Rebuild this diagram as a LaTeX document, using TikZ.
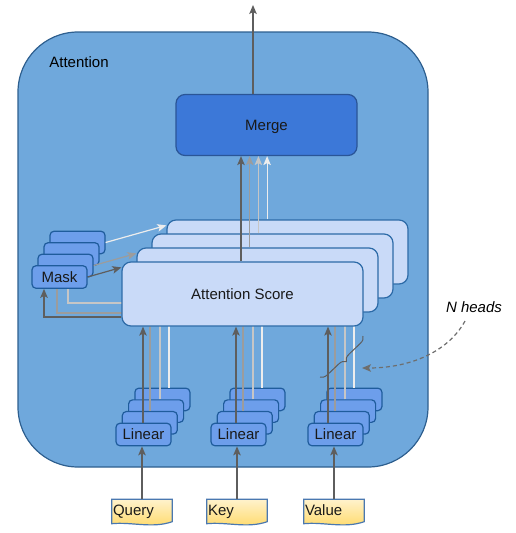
\documentclass[tikz,border=0pt]{standalone}
\usepackage{fontspec}
\setmainfont{Liberation Sans}
\usetikzlibrary{calc, positioning, arrows.meta, backgrounds, decorations.pathreplacing}

\definecolor{outerfill}{HTML}{6FA8DC}
\definecolor{outerline}{HTML}{2E5F8F}
\definecolor{mergefill}{HTML}{3C78D8}
\definecolor{mergeline}{HTML}{2A5597}
\definecolor{scorefill}{HTML}{C9DAF8}
\definecolor{scoreline}{HTML}{2D6BA8}
\definecolor{smallfill}{HTML}{6D9EEB}
\definecolor{smallline}{HTML}{1F5C9C}
\definecolor{doctop}{HTML}{FFF2CC}
\definecolor{docbot}{HTML}{FFD966}
\definecolor{docline}{HTML}{4A78B0}
\definecolor{lk0}{HTML}{5E5E5E}
\definecolor{lk1}{HTML}{9C9C9C}
\definecolor{lk2}{HTML}{C6C6C6}
\definecolor{lk3}{HTML}{EDEDED}

\tikzset{
    box/.style={draw, line width=1.2pt, inner sep=0pt, text depth=0pt, text=black!90},
    outerbox/.style={box, draw=outerline, fill=outerfill, rounded corners=60pt,
        minimum width=410pt, minimum height=435pt},
    mergebox/.style={box, draw=mergeline, fill=mergefill, rounded corners=9pt,
        minimum width=181pt, minimum height=61pt},
    scorebox/.style={box, draw=scoreline, fill=scorefill, rounded corners=9pt,
        minimum width=241pt, minimum height=64pt},
    smallbox/.style={box, draw=smallline, fill=smallfill, rounded corners=4pt,
        minimum width=55pt, minimum height=22.5pt},
    docbox/.style={inner xsep=1pt, inner ysep=0pt, text width=58pt, align=left,
        text depth=0pt, minimum height=22pt, text=black!90},
    conn/.style={line width=1.2pt, -{Stealth[length=9pt, width=7.5pt, inset=2pt]}}
}

\begin{document}
\begin{tikzpicture}[x=1pt, y=-1pt, font=\fontsize{15pt}{18pt}\selectfont]
    \useasboundingbox (0,0) rectangle (516,533);

    \node[outerbox] (attn) at (223,249.5) {};
    \node (attn-label) at (79,62) {Attention};
    \node[mergebox] (merge) at (266.5,125) {Merge};

    % output
    \coordinate (out) at (253,5);
    \draw[conn, color=lk0] (merge.north -| out) -- (out);

    % heads, back to front
    \foreach \k in {3,2,1,0} {
        \node[scorebox] (score-\k) at ({242.5+15*\k}, {294-14*\k}) {\ifnum\k=0 Attention Score\fi};
        \node[smallbox] (mask-\k) at ({59.5+6*\k}, {277-11.5*\k}) {\ifnum\k=0 Mask\fi};
        \foreach \g/\gx/\lx in {1/143.5/143, 2/238.5/236, 3/335.5/328} {
            \node[smallbox] (linear-\g-\k) at ({\gx+6.3*\k}, {434.5-11.7*\k}) {\ifnum\k=0 Linear\fi};
            \pgfmathsetmacro{\lxk}{\lx+{0,7,17,26}[\k]}
            \draw[conn, color=lk\k] (\lxk,0 |- linear-\g-\k.north) -- (\lxk,0 |- score-\k.south);
        }

        \pgfmathsetmacro{\mx}{241+8.7*\k}
        \draw[conn, color=lk\k] (\mx,0 |- score-\k.north) -- (\mx,0 |- merge.south);

        \ifnum\k=2 \else
            \draw[conn, color=lk\k] (mask-\k.east) -- ([yshift=-6pt]score-\k.north west);
        \fi
        \ifnum\k<3
            \pgfmathsetmacro{\bx}{{44,57,68}[\k]}
            \pgfmathsetmacro{\by}{{317,313,303}[\k]}
            \draw[conn, color=lk\k] (score-\k.west |- 0,\by) -| (\bx,0 |- mask-\k.south);
        \fi
    }

    % inputs
    \foreach \g/\name/\txt/\dx in {1/query/Query/142, 2/key/Key/237, 3/value/Value/334} {
        \node[docbox] (\name) at (\dx,510.5) {\txt};
        \begin{scope}[on background layer]
            \draw[line width=1.2pt, draw=docline, top color=doctop, bottom color=docbot]
                (\name.north west) -- (\name.north east) -- (\name.south east)
                .. controls ($(\name.south east)+(-20,7)$) and ($(\name.south west)+(20,0)$)
                .. ($(\name.south west)+(0,2)$) -- cycle;
        \end{scope}
        \draw[conn, color=lk0] (\name.north) -- (\name.north |- linear-\g-0.south);
    }

    % heads note
    \draw[lk0, line width=1pt, decorate, decoration={brace, amplitude=7pt}] (363,336) -- (320,377);
    \node[font=\fontsize{15pt}{18pt}\selectfont\itshape] (nheads) at (474,307) {N heads};
    \coordinate (nh-end) at (362,368);
    \draw[conn, color=lk0!90, dash pattern=on 4pt off 3pt]
        ([shift={(-9,5)}]nheads.south) .. controls (448,352) and (410,368) .. (nh-end);
\end{tikzpicture}
\end{document}
